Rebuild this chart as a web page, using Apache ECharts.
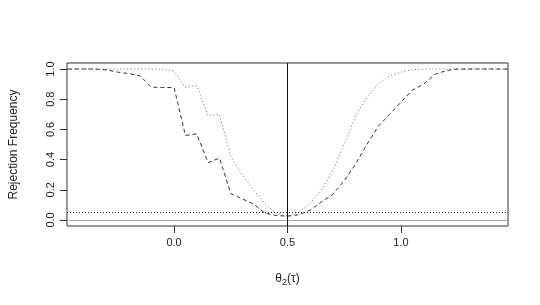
<!DOCTYPE html>
<html>
<head>
<meta charset="utf-8">
<script src="https://cdn.jsdelivr.net/npm/echarts@6/dist/echarts.min.js"></script>
<style>
html,body{margin:0;padding:0;background:#fff;}
#chart{width:540px;height:305px;}
</style>
</head>
<body>
<div id="chart"></div>
<script>
// x grid (theta_2(tau))
var thetaValues = [-0.5,-0.45,-0.4,-0.35,-0.3,-0.25,-0.2,-0.15,-0.1,-0.05,0,0.05,0.1,0.15,0.2,0.25,0.3,0.35,0.4,0.45,0.5,0.55,0.6,0.65,0.7,0.75,0.8,0.85,0.9,0.95,1.0,1.05,1.1,1.15,1.2,1.25,1.3,1.35,1.4,1.45,1.5];
// dotted curve
var dottedValues = [1,1,1,1,1,1,1,1,1,0.998,0.985,0.88,0.89,0.69,0.70,0.42,0.30,0.20,0.108,0.045,0.025,0.055,0.11,0.20,0.33,0.50,0.69,0.81,0.90,0.955,0.98,0.995,1,1,1,1,1,1,1,1,1];
// dashed curve
var dashedValues = [1,1,1,1,0.995,0.98,0.97,0.955,0.88,0.878,0.877,0.56,0.57,0.38,0.41,0.175,0.14,0.105,0.045,0.03,0.025,0.035,0.065,0.12,0.17,0.26,0.37,0.50,0.62,0.70,0.78,0.86,0.9,0.965,0.99,1,1,1,1,1,1];
var xTicks = [0, 0.5, 1.0];
var yTicks = [0, 0.2, 0.4, 0.6, 0.8, 1.0];
var nominalLevel = 0.05;
var zeroLevel = 0;
var trueTheta = 0.5;

function pairs(xs, ys){ return xs.map(function(x,i){ return [x, ys[i]]; }); }

var chart = echarts.init(document.getElementById('chart'), null, {renderer:'canvas'});
var font = '"Liberation Sans", Arial, sans-serif';
chart.setOption({
  animation: false,
  backgroundColor: '#fff',
  grid: {left: 62, right: 32, top: 63, bottom: 79, show: true, borderColor: '#333', borderWidth: 1, backgroundColor: 'transparent'},
  xAxis: {
    type: 'value', min: -0.472, max: 1.472,
    axisLine: {show: false, onZero: false},
    splitLine: {show: false},
    axisTick: {show: true, inside: false, length: 7, lineStyle: {color: '#333'}, customValues: xTicks},
    axisLabel: {show: true, margin: 11, color: '#222', fontFamily: font, fontSize: 11,
      customValues: xTicks, formatter: function(v){ return v.toFixed(1); }},
    name: '{t|θ}{s|2}{t|(τ)}', nameLocation: 'middle', nameGap: 44,
    nameTextStyle: {rich: {t: {fontFamily: font, fontSize: 12, color: '#222'}, s: {fontFamily: font, fontSize: 9, color: '#222', padding: [8,0,0,0]}}}
  },
  yAxis: {
    type: 'value', min: -0.04, max: 1.04,
    axisLine: {show: false, onZero: false},
    splitLine: {show: false},
    axisTick: {show: true, inside: false, length: 7, lineStyle: {color: '#333'}, customValues: yTicks},
    axisLabel: {show: true, rotate: 90, margin: 11, color: '#222', fontFamily: font, fontSize: 11,
      customValues: yTicks, formatter: function(v){ return v.toFixed(1); }},
    name: 'Rejection Frequency', nameLocation: 'middle', nameGap: 47, nameRotate: 90,
    nameTextStyle: {fontFamily: font, fontSize: 12, color: '#222'}
  },
  series: [
    {
      type: 'line', data: pairs(thetaValues, dottedValues), showSymbol: false, symbol: 'none',
      lineStyle: {color: '#666', width: 1, type: [1, 2.5]}, clip: true, z: 3,
      markLine: {
        silent: true, symbol: 'none', label: {show: false}, animation: false,
        data: [
          {yAxis: nominalLevel, lineStyle: {color: '#111', width: 1, type: [1, 2]}},
          {yAxis: zeroLevel, lineStyle: {color: '#aaa', width: 1.2, type: 'solid'}},
          {xAxis: trueTheta, lineStyle: {color: '#111', width: 1, type: 'solid'}}
        ]
      }
    },
    {
      type: 'line', data: pairs(thetaValues, dashedValues), showSymbol: false, symbol: 'none',
      lineStyle: {color: '#333', width: 1, type: [4, 3]}, clip: true, z: 4
    }
  ]
});
</script>
</body>
</html>
